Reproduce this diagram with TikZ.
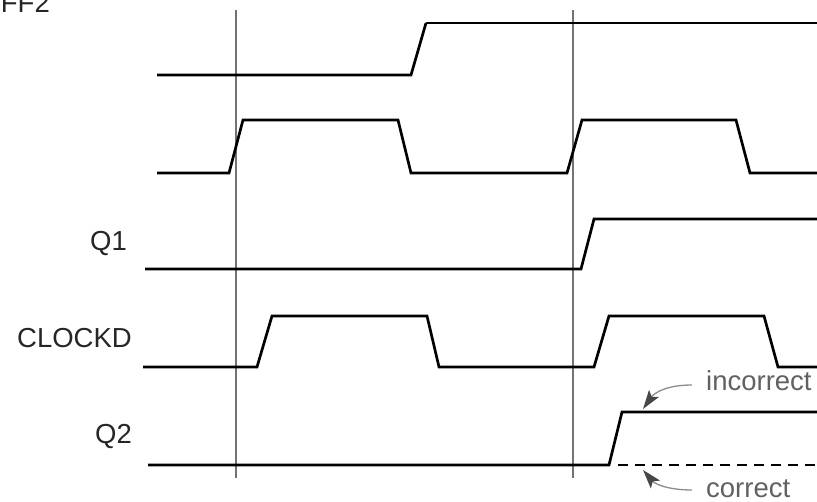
\documentclass[tikz,border=0pt]{standalone}
\usepackage{fontspec}
\setmainfont{Liberation Sans}
\usetikzlibrary{arrows.meta}
\begin{document}
\begin{tikzpicture}[x=1pt,y=-1pt,
  sig/.style={line width=2.7pt, line join=miter},
  thinsig/.style={line width=1.8pt},
  gridline/.style={line width=1.2pt, draw=black!55},
  lbl/.style={font=\fontsize{27.5}{32}\selectfont, text=black!85, inner sep=0pt, anchor=base east},
  note/.style={font=\fontsize{27.5}{32}\selectfont, text=black!62, inner sep=0pt, anchor=base west},
  pointer/.style={draw=black!45, line width=1.3pt, -{Stealth[length=19pt,width=12pt,inset=4pt,color=black!72]}}
]
\useasboundingbox (0,0) rectangle (817,502);

% time markers
\draw[gridline] (236,10) coordinate (m1top) -- (236,478) coordinate (m1bot);
\draw[gridline] (573,10) coordinate (m2top) -- (573,478) coordinate (m2bot);

% labels
\node[lbl] (lff) at (50,13) {FF2};
\node[lbl] (lq1) at (127,251) {Q1};
\node[lbl] (lclk) at (132,348) {CLOCKD};
\node[lbl] (lq2) at (132,444) {Q2};

% signal 1
\draw[sig] (157,75) -- (411,75) -- (426,23);
\draw[thinsig] (426,23) -- (817,23);

% signal 2 (clock)
\draw[sig] (157,173) -- (229,173) -- (243,120) -- (398,120) -- (411,173)
  -- (567,173) -- (582,120) -- (736,120) -- (750,173) -- (817,173);

% Q1
\draw[sig] (145,269) -- (581,269) -- (594,219) -- (817,219);

% CLOCKD
\draw[sig] (143,367) -- (257,367) -- (272,316) -- (427,316) -- (439,367)
  -- (594,367) -- (609,316) -- (764,316) -- (778,367) -- (817,367);

% Q2
\draw[sig] (148,465) -- (609,465) -- (622,412) -- (817,412);
\draw[sig, dash pattern=on 10pt off 7pt] (618,465) -- (817,465);

% notes
\node[note] (inc) at (706,391) {incorrect};
\node[note] (cor) at (706,497) {correct};
\coordinate (inctail) at (692,385);
\coordinate (inctip) at (643,409);
\coordinate (cortail) at (692,490);
\coordinate (cortip) at (643,470);
\draw[pointer] (inctail) .. controls (668,385) and (655,392) .. (inctip);
\draw[pointer] (cortail) .. controls (668,490) and (655,484) .. (cortip);
\end{tikzpicture}
\end{document}
